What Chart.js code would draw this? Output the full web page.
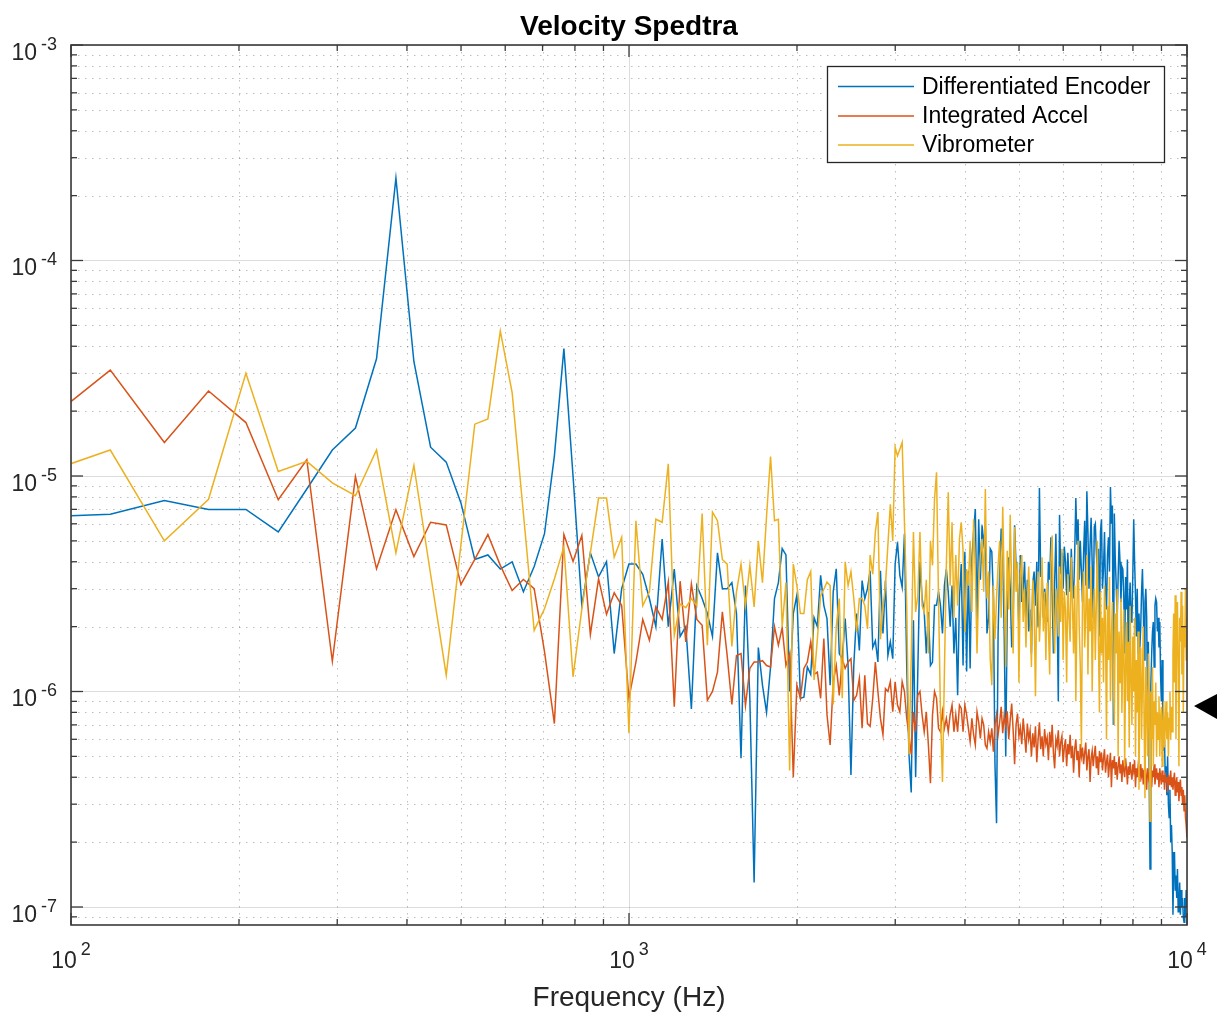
<!DOCTYPE html>
<html>
<head>
<meta charset="utf-8">
<title>Velocity Spedtra</title>
<script src="https://cdn.jsdelivr.net/npm/chart.js"></script>
<style>
  html, body { margin: 0; padding: 0; background: #fff; }
  #wrap { position: relative; width: 1217px; height: 1025px; }
</style>
</head>
<body>
<div id="wrap"><canvas id="spectra" width="1217" height="1025"></canvas></div>
<script>
/* ── velocity spectra: encoder vs accelerometer vs vibrometer ── */

// FFT bins are 29.4 Hz apart, first stored bin is #3 (88.2 Hz, just left of the axis)
const BIN_HZ = 29.4;
const FIRST_BIN = 3;

// amplitudes in micro-units (x 1e-6), one value per bin
const encoderUv = [
  6.44, 6.65, 7.7, 7.0, 7.0, 5.5, 8.7, 13.2, 16.7, 35,
  241, 34, 13.6, 11.6, 7.5, 4.1, 4.3, 3.7, 4.0, 2.9,
  3.8, 5.4, 12.4, 39, 10, 2.5, 4.4, 3.4, 4.0, 1.5,
  3.0, 3.9, 3.9, 3.5, 2.7, 2.0, 5.1, 2.0, 3.7, 1.8,
  2.0, 0.83, 3.1, 2.7, 2.3, 1.8, 4.4, 3.0, 3.0, 3.2,
  2.3, 0.49, 3.1, 0.93, 0.13, 1.6, 1.07, 0.8, 1.3, 2.7,
  3.2, 4.6, 4.3, 1.0, 2.3, 2.8, 0.93, 0.94, 1.3, 1.2,
  2.2, 2.0, 3.46, 2.51, 2.18, 1.07, 2.9, 3.71, 1.5, 1.42,
  2.18, 1.32, 0.41, 1.32, 2.3, 1.55, 3.27, 2.7, 3.0, 3.63,
  1.6, 1.72, 1.37, 3.63, 1.86, 3.27, 1.47, 1.7, 1.42, 3.9,
  4.93, 3.46, 3.05, 5.39, 1.32, 0.51, 0.34, 2.14, 0.4, 1.24,
  4.0, 2.7, 2.34, 1.5, 2.34, 1.32, 1.37, 2.51, 2.51, 2.9,
  2.51, 1.86, 3.1, 3.7, 2.9, 2.0, 3.1, 1.5, 2.2, 0.96,
  2.7, 3.9, 1.32, 4.45, 1.24, 3.63, 1.28, 4.13, 5.5, 7.03,
  2.0, 6.3, 3.3, 5.9, 4.9, 5.7, 1.86, 2.2, 4.6, 4.45,
  2.7, 0.46, 0.245, 1.86, 3.6, 5.7, 4.4, 1.8,
  0.5, 2.4, 4.2, 3.0, 1.6, 2.2, 5.9, 3.8, 3.1, 2.0,
  4.3, 2.6, 3.0, 4.0, 2.2, 3.3, 1.9, 2.4, 1.5, 3.2,
  3.6, 2.5, 4.0, 2.0, 8.8, 3.4, 3.7, 2.2, 3.0, 2.6,
  2.1, 4.0, 3.3, 5.2, 2.8, 1.5, 3.2, 5.4, 2.4, 0.9,
  6.6, 3.5, 4.4, 3.0, 4.7, 4.0, 2.8, 4.4, 3.4, 2.9,
  4.6, 3.2, 2.7, 4.4, 7.9, 4.8, 6.3, 3.3, 5.0, 3.6,
  2.6, 4.4, 6.2, 3.1, 8.5, 5.5, 3.0, 4.8, 6.4, 3.9,
  2.2, 5.8, 6.0, 4.4, 3.5, 4.6, 1.8, 5.5, 6.3, 3.0,
  3.7, 5.5, 3.0, 2.4, 4.3, 5.2, 3.6, 8.9, 6.0, 7.3,
  0.7, 6.7, 4.1, 3.1, 2.2, 3.4, 5.0, 4.0, 2.6, 3.8,
  3.7, 2.8, 1.5, 3.4, 2.4, 4.1, 1.07, 2.6, 3.2, 2.1,
  2.2, 3.5, 6.3, 4.0, 2.8, 1.8, 3.0, 1.5, 2.3, 1.6,
  2.0, 2.9, 3.7, 2.5, 1.4, 2.6, 3.0, 2.2, 0.9, 1.7,
  0.4, 0.15, 1.07, 1.5, 1.9, 2.1, 1.3, 2.5, 2.7, 2.6,
  1.9, 2.2, 1.6, 2.1, 1.2, 0.9, 1.4, 0.7, 0.53, 0.6,
  0.38, 0.45, 0.33, 0.5, 0.3, 0.26, 0.35, 0.2, 0.24, 0.18,
  0.092, 0.16, 0.18, 0.12, 0.14, 0.11, 0.15, 0.095, 0.1, 0.13,
  0.092, 0.12, 0.1, 0.11, 0.09, 0.085, 0.11, 0.09, 0.12, 0.1
];

const accelUv = [
  17.1, 31, 14.3, 24.8, 17.7, 7.76, 11.9, 1.38, 9.93, 3.71,
  6.98, 4.23, 6.1, 5.93, 3.14, 4.1, 5.35, 3.85, 2.94, 3.31,
  3.0, 1.53, 0.71, 5.35, 4.01, 5.3, 1.84, 3.33, 2.28, 2.87,
  2.51, 0.93, 1.37, 2.16, 1.73, 2.47, 2.16, 3.22, 0.85, 3.25,
  1.7, 3.15, 2.16, 2.03, 0.91, 1.0, 1.23, 2.34, 1.47, 0.87,
  1.47, 1.5, 0.86, 1.28, 1.37, 1.37, 1.39, 1.32, 1.3, 2.0,
  1.64, 1.98, 1.32, 1.5, 0.4, 1.07, 0.93, 1.28, 1.37, 1.7,
  1.2, 1.23, 0.93, 1.76, 0.78, 0.565, 1.11, 1.32, 0.96, 1.42,
  1.28, 1.37, 1.42, 0.91, 0.96, 1.15, 0.675, 1.19, 0.71, 0.69,
  0.93, 1.37, 1.0, 0.75, 0.63, 1.03, 1.0, 1.11, 0.805, 1.11,
  0.865, 0.805, 1.11, 1.0, 0.75, 0.63, 0.51, 0.805, 0.65, 0.96,
  1.0, 0.78, 0.65, 0.805, 0.565, 0.375, 0.78, 1.0, 0.93, 0.675,
  0.65, 0.805, 0.675, 0.75, 0.65, 0.78, 0.865, 0.65, 0.78, 0.65,
  0.865, 0.834, 0.65, 0.865, 0.78, 0.675, 0.585, 0.75, 0.63, 0.565,
  0.805, 0.72, 0.605, 0.75, 0.7, 0.565, 0.545, 0.65, 0.585, 0.675,
  0.525, 0.7, 0.78, 0.63, 0.72, 0.85, 0.64, 0.78,
  0.69, 0.81, 0.6, 0.74, 0.88, 0.66, 0.46, 0.7, 0.79, 0.62,
  0.68, 0.57, 0.75, 0.63, 0.52, 0.71, 0.6, 0.66, 0.5, 0.64,
  0.55, 0.69, 0.47, 0.6, 0.72, 0.54, 0.62, 0.5, 0.67, 0.57,
  0.61, 0.48, 0.65, 0.55, 0.7, 0.52, 0.44, 0.6, 0.56, 0.66,
  0.5, 0.58, 0.62, 0.47, 0.55, 0.6, 0.45, 0.57, 0.51, 0.63,
  0.49, 0.56, 0.42, 0.54, 0.6, 0.48, 0.53, 0.4, 0.57, 0.5,
  0.55, 0.46, 0.52, 0.58, 0.43, 0.5, 0.54, 0.38, 0.49, 0.53,
  0.45, 0.51, 0.56, 0.44, 0.5, 0.41, 0.53, 0.47, 0.52, 0.43,
  0.49, 0.54, 0.42, 0.47, 0.51, 0.4, 0.46, 0.52, 0.36, 0.48,
  0.44, 0.5, 0.41, 0.47, 0.39, 0.45, 0.5, 0.42, 0.46, 0.38,
  0.48, 0.43, 0.4, 0.49, 0.44, 0.37, 0.45, 0.41, 0.47, 0.42,
  0.39, 0.46, 0.43, 0.48, 0.36, 0.44, 0.4, 0.45, 0.42, 0.38,
  0.46, 0.41, 0.44, 0.37, 0.43, 0.47, 0.4, 0.35, 0.44, 0.41,
  0.38, 0.45, 0.42, 0.36, 0.43, 0.4, 0.46, 0.37, 0.41, 0.44,
  0.39, 0.42, 0.36, 0.44, 0.4, 0.37, 0.43, 0.38, 0.41, 0.35,
  0.42, 0.38, 0.4, 0.34, 0.41, 0.37, 0.39, 0.43, 0.36, 0.4,
  0.35, 0.39, 0.42, 0.33, 0.37, 0.4, 0.34, 0.38, 0.31, 0.36,
  0.39, 0.33, 0.36, 0.3, 0.35, 0.28, 0.33, 0.26, 0.24, 0.21
];

const vibroUv = [
  10.2, 13.2, 5.0, 7.8, 30, 10.5, 11.7, 9.3, 8.1, 13.2,
  4.4, 11.2, 3.5, 1.19, 4.8, 17.4, 18.4, 47, 24.4, 6.7,
  1.92, 2.42, 3.33, 4.7, 1.17, 2.42, 4.4, 7.9, 7.9, 4.2,
  5.2, 0.64, 6.2, 2.5, 2.9, 6.3, 6.1, 11.4, 1.82, 2.55,
  2.45, 2.7, 2.5, 6.7, 1.64, 6.8, 6.2, 4.1, 3.9, 1.62,
  2.9, 3.9, 2.5, 3.85, 2.47, 5.0, 3.2, 6.5, 12.3, 6.2,
  6.3, 2.0, 3.2, 0.43, 3.9, 3.1, 2.3, 2.3, 3.3, 3.6,
  1.13, 1.75, 2.78, 2.98, 3.22, 3.1, 0.87, 2.0, 2.7, 0.93,
  4.0, 3.1, 3.6, 2.7, 1.89, 2.7, 2.7, 2.5, 1.95, 4.3,
  3.5, 5.5, 6.8, 1.75, 2.43, 3.1, 4.8, 7.4, 5.0, 13.6,
  12.4, 13.3, 14.3, 6.1, 2.5, 0.51, 1.42, 5.5, 2.34, 2.78,
  5.5, 2.5, 2.34, 3.3, 1.5, 5.0, 3.85, 7.8, 10.4, 2.7,
  0.78, 0.38, 1.23, 3.85, 8.4, 3.1, 6.1, 2.2, 4.3, 2.5,
  5.1, 6.1, 4.5, 1.89, 3.7, 3.1, 5.0, 2.34, 6.3, 3.6,
  1.5, 3.1, 4.3, 5.1, 2.9, 8.7, 2.7, 3.6, 1.42, 1.07,
  3.1, 1.75, 2.7, 3.85, 5.0, 2.2, 7.2, 3.1,
  1.3, 4.5, 2.4, 6.6, 3.0, 1.5, 5.8, 2.9, 4.0, 1.1,
  3.4, 4.3, 2.1, 3.0, 1.6, 2.6, 3.8, 2.2, 1.3, 3.3,
  2.5, 0.95, 2.8, 3.6, 1.7, 2.4, 4.2, 1.9, 2.9, 1.4,
  3.2, 2.0, 1.2, 4.0, 5.3, 2.3, 1.5, 3.0, 2.6, 1.8,
  3.8, 2.1, 4.6, 1.4, 2.9, 2.4, 1.1, 3.5, 2.2, 1.7,
  4.2, 2.6, 1.5, 3.1, 0.9, 2.4, 5.0, 2.0, 1.3, 0.55,
  2.8, 3.6, 1.6, 2.3, 4.3, 1.2, 2.7, 1.9, 3.8, 1.0,
  2.2, 3.0, 1.4, 2.6, 5.0, 1.7, 0.8, 2.9, 1.5, 2.2,
  1.1, 3.1, 2.0, 0.6, 2.5, 1.4, 3.4, 0.9, 1.8, 2.6,
  1.2, 0.7, 2.3, 1.5, 3.0, 0.5, 1.9, 1.1, 2.7, 0.8,
  1.6, 2.4, 0.45, 1.3, 2.1, 0.9, 1.7, 0.55, 2.5, 1.2,
  0.7, 1.8, 1.0, 2.2, 0.5, 1.4, 0.8, 1.9, 0.35, 1.2,
  1.6, 0.6, 1.1, 2.0, 0.7, 0.32, 1.3, 0.9, 0.5, 1.5,
  0.8, 0.25, 1.0, 0.6, 1.3, 0.45, 0.9, 0.7, 1.1, 0.5,
  0.8, 0.6, 0.95, 0.5, 0.75, 0.85, 0.45, 0.7, 0.9, 0.55,
  0.7, 0.9, 0.6, 0.8, 0.5, 0.75, 1.0, 0.6, 0.85, 0.65,
  1.5, 2.3, 1.1, 2.8, 0.6, 1.9, 2.6, 1.3, 0.45, 2.2,
  1.7, 2.9, 1.2, 2.5, 0.8, 2.0, 1.6, 3.0, 1.4, 2.2
];

const seriesNames = ['Differentiated Encoder', 'Integrated Accel', 'Vibrometer'];
const seriesColors = ['#0072BD', '#D95319', '#EDB120'];

// decade tick labels (exponents of ten)
const xExponents = [2, 3, 4];
const yExponents = [-3, -4, -5, -6, -7];

const X_MIN = 100, X_MAX = 1e4;
const Y_MIN = 8.25e-8, Y_MAX = 1e-3;

const FONT = '"Liberation Sans", Arial, Helvetica, sans-serif';
const AXIS_COLOR = '#3a3a3a';

function toPoints(values) {
  return values.map((v, i) => ({ x: (FIRST_BIN + i) * BIN_HZ, y: v * 1e-6 }));
}

function minorValues(lo, hi) {
  const out = [];
  for (let e = Math.floor(Math.log10(lo)); e <= Math.ceil(Math.log10(hi)); e++) {
    for (let m = 2; m <= 9; m++) {
      const v = m * Math.pow(10, e);
      if (v > lo * 1.0001 && v < hi * 0.9999) out.push(v);
    }
  }
  return out;
}

function seg(ctx, x1, y1, x2, y2) {
  ctx.beginPath();
  ctx.moveTo(x1, y1);
  ctx.lineTo(x2, y2);
  ctx.stroke();
}

const snap = v => Math.round(v) + 0.5;

// MATLAB-looking axes: dotted minor grid, inside ticks on all sides, 10^n labels
const matlabAxes = {
  id: 'matlabAxes',
  beforeDatasetsDraw(chart) {
    const { ctx, chartArea: a, scales: { x, y } } = chart;
    ctx.save();
    ctx.lineWidth = 1;

    ctx.strokeStyle = 'rgba(38,38,38,0.3)';
    ctx.setLineDash([1.5, 5.5]);
    minorValues(X_MIN, X_MAX).forEach(v => {
      const px = snap(x.getPixelForValue(v));
      seg(ctx, px, a.top, px, a.bottom);
    });
    minorValues(Y_MIN, Y_MAX).forEach(v => {
      const py = snap(y.getPixelForValue(v));
      seg(ctx, a.left, py, a.right, py);
    });

    ctx.setLineDash([]);
    ctx.strokeStyle = 'rgba(38,38,38,0.16)';
    xExponents.forEach(e => {
      const px = snap(x.getPixelForValue(Math.pow(10, e)));
      seg(ctx, px, a.top, px, a.bottom);
    });
    yExponents.forEach(e => {
      const py = snap(y.getPixelForValue(Math.pow(10, e)));
      seg(ctx, a.left, py, a.right, py);
    });
    ctx.restore();
  },

  afterDatasetsDraw(chart) {
    const { ctx, chartArea: a, scales: { x, y } } = chart;
    ctx.save();

    // ticks
    ctx.strokeStyle = AXIS_COLOR;
    ctx.lineWidth = 1.3;
    const MAJ = 12, MIN = 6;
    const xTick = (v, len) => {
      const px = x.getPixelForValue(v);
      seg(ctx, px, a.bottom, px, a.bottom - len);
      seg(ctx, px, a.top, px, a.top + len);
    };
    const yTick = (v, len) => {
      const py = y.getPixelForValue(v);
      seg(ctx, a.left, py, a.left + len, py);
      seg(ctx, a.right, py, a.right - len, py);
    };
    minorValues(X_MIN, X_MAX).forEach(v => xTick(v, MIN));
    xExponents.forEach(e => xTick(Math.pow(10, e), MAJ));
    minorValues(Y_MIN, Y_MAX).forEach(v => yTick(v, MIN));
    yExponents.forEach(e => yTick(Math.pow(10, e), MAJ));

    // box
    ctx.lineWidth = 1.6;
    ctx.strokeRect(a.left, a.top, a.right - a.left, a.bottom - a.top);

    // tick labels
    ctx.fillStyle = '#262626';
    ctx.textBaseline = 'alphabetic';
    const BASE = '23px ' + FONT, SUP = '18px ' + FONT;
    yExponents.forEach(e => {
      const py = y.getPixelForValue(Math.pow(10, e));
      ctx.font = BASE; ctx.textAlign = 'right';
      ctx.fillText('10', 37, py + 15);
      ctx.font = SUP; ctx.textAlign = 'left';
      ctx.fillText(String(e), 41, py + 5);
    });
    xExponents.forEach(e => {
      const px = x.getPixelForValue(Math.pow(10, e));
      ctx.font = BASE;
      const w10 = ctx.measureText('10').width;
      ctx.font = SUP;
      const wSup = ctx.measureText(String(e)).width;
      const start = px - (w10 + 4 + wSup) / 2;
      ctx.textAlign = 'left';
      ctx.font = BASE;
      ctx.fillText('10', start, 968);
      ctx.font = SUP;
      ctx.fillText(String(e), start + w10 + 4, 955);
    });

    // axis label and title
    ctx.textAlign = 'center';
    ctx.font = '28px ' + FONT;
    ctx.fillText('Frequency (Hz)', (a.left + a.right) / 2, 1006);
    ctx.fillStyle = '#000';
    ctx.font = 'bold 28px ' + FONT;
    ctx.fillText('Velocity Spedtra', (a.left + a.right) / 2, 35);

    // legend
    ctx.fillStyle = '#fff';
    ctx.fillRect(827, 66, 338, 97);
    ctx.strokeStyle = '#262626';
    ctx.lineWidth = 1.3;
    ctx.strokeRect(827.5, 66.5, 337, 96);
    ctx.font = '23px ' + FONT;
    ctx.textAlign = 'left';
    ctx.textBaseline = 'middle';
    const rows = [86.5, 116, 145];
    seriesNames.forEach((name, i) => {
      ctx.strokeStyle = seriesColors[i];
      ctx.lineWidth = 1.5;
      seg(ctx, 838, rows[i], 914, rows[i]);
      ctx.fillStyle = '#000';
      ctx.fillText(name, 922, rows[i] + 1);
    });

    // pointer arrow at the right edge of the screenshot
    ctx.fillStyle = '#000';
    ctx.beginPath();
    ctx.moveTo(1194, 706);
    ctx.lineTo(1217, 694);
    ctx.lineTo(1217, 719);
    ctx.closePath();
    ctx.fill();

    ctx.restore();
  }
};

const seriesValues = [encoderUv, accelUv, vibroUv];

new Chart(document.getElementById('spectra'), {
  type: 'line',
  data: {
    datasets: seriesValues.map((vals, i) => ({
      label: seriesNames[i],
      data: toPoints(vals),
      borderColor: seriesColors[i],
      borderWidth: 1.5,
      pointRadius: 0,
      fill: false,
      tension: 0,
      order: 3 - i
    }))
  },
  options: {
    responsive: false,
    devicePixelRatio: 1,
    animation: false,
    events: [],
    layout: { padding: { left: 71, right: 30, top: 45, bottom: 100 } },
    scales: {
      x: { type: 'logarithmic', min: X_MIN, max: X_MAX, display: false },
      y: { type: 'logarithmic', min: Y_MIN, max: Y_MAX, display: false }
    },
    plugins: {
      legend: { display: false },
      tooltip: { enabled: false },
      title: { display: false }
    }
  },
  plugins: [matlabAxes]
});
</script>
</body>
</html>
